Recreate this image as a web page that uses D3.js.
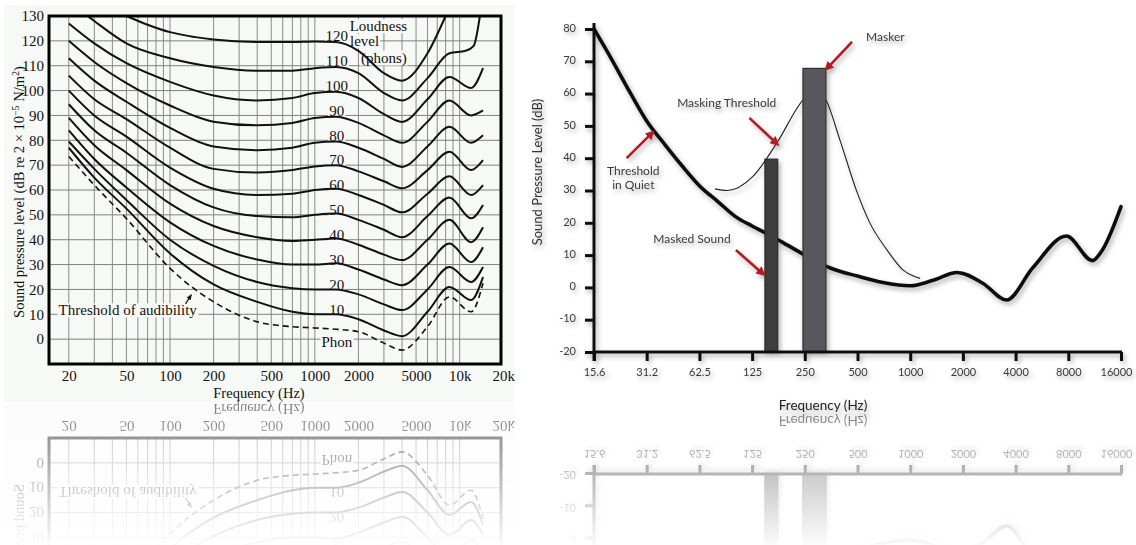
<!DOCTYPE html>
<html>
<head>
<meta charset="utf-8">
<script src="https://cdn.jsdelivr.net/npm/d3@7"></script>
<style>
body { margin: 0; background: #fff; }
svg { display: block; }
</style>
</head>
<body>
<script>
const W = 1136, H = 545;

// ---------- left chart: equal loudness contours ----------
const elcFreqs = [20, 30, 50, 100, 200, 400, 700, 1000, 1400, 2000, 3000, 4000, 6000, 8500, 12000, 14500];
const thresholdLevels = [73.5, 62, 48.5, 28.5, 15, 7, 5, 4.5, 4, 3, -1.6, -4.4, 5, 17, 11, 22.5];
const phon10 = [77, 65, 52.5, 34.5, 22, 15, 11, 10, 10, 8, 3.5, 1.2, 11, 21, 15.7, 25];
const phon20 = [79.5, 68.5, 56, 40, 29.5, 23, 20.5, 20, 20, 18, 14, 11.7, 20, 29, 23, 29];
const phon30 = [84, 72.5, 61, 47, 37.5, 32, 30, 30, 30.5, 28, 24, 21.7, 30, 38.5, 31, 37];
const phon40 = [89, 78, 68, 54.5, 45.5, 41, 39.5, 40, 40.5, 38, 34, 31.8, 40, 48, 39, 45];
const phon50 = [94.5, 84, 75, 62, 53, 49.5, 49, 50, 50.5, 48, 44, 41, 49.5, 57, 48.6, 54];
const phon60 = [100, 90, 81.5, 69, 60.5, 58, 58.5, 60, 60.5, 58, 54, 51, 58.5, 65.5, 58, 62];
const phon70 = [106, 96.5, 88.5, 77, 68.5, 67, 68, 69.5, 70, 67.5, 63.5, 60.7, 68, 75.4, 68, 72];
const phon80 = [113, 104, 95.5, 85, 77.5, 76, 77, 79, 79.5, 77, 72.5, 69.3, 77.5, 85.4, 79, 82];
const phon90 = [120, 111.5, 103, 94, 87.5, 86, 87, 89, 89.5, 87, 82, 79, 87.5, 96, 90, 92];
const phon100 = [127, 119, 111, 103.5, 98, 96, 97, 99, 99.5, 97, 90.5, 87.4, 96.5, 105.5, 101, 109];
const phon110Freqs = [27, 30, 50, 100, 200, 400, 700, 1000, 1400, 2000, 3000, 4000, 6000, 8500, 11000, 12500, 13800];
const phon110 = [130, 128, 119, 113, 109.5, 108, 108, 109, 109.5, 107, 99, 96, 105, 115, 116, 118, 130];
const phon120Freqs = [50, 70, 100, 150, 200, 400, 700, 1000, 1400, 2000, 3000, 4000, 6000, 8000];
const phon120 = [130, 126.5, 123.5, 121.5, 120.5, 119.5, 119.5, 119.7, 119.5, 116, 107, 104, 115, 130];
const phonLabels = [120, 110, 100, 90, 80, 70, 60, 50, 40, 30, 20, 10];

const leftTickValues = [20, 50, 100, 200, 500, 1000, 2000, 5000, 10000, 20000];
const leftTickLabels = ["20", "50", "100", "200", "500", "1000", "2000", "5000", "10k", "20k"];
const leftGridFreqs = [20, 30, 40, 50, 60, 70, 80, 90, 100, 200, 300, 400, 500, 600, 700, 800, 900,
                       1000, 2000, 3000, 4000, 5000, 6000, 7000, 8000, 9000, 10000];
const leftDbTicks = d3.range(0, 131, 10);

// ---------- right chart: masking ----------
const quietFreqs = [15.625, 20, 25, 31.25, 40, 50, 62.5, 80, 100, 125, 160, 200, 250, 350, 500, 700,
                    1000, 1350, 1850, 2600, 3550, 5000, 7800, 11000, 12500, 16000];
const quietLevels = [80, 70, 60.5, 51.5, 44, 37.5, 31.5, 26.5, 22, 19, 16, 13, 10, 6, 3.5, 1.5,
                     0.5, 2.2, 4.6, 1.3, -3.9, 6, 15.9, 8.3, 11.5, 25];
const maskFreqs = [76.7, 90, 126, 173, 244, 285, 330, 397, 497, 589, 737, 909, 1140];
const maskLevels = [30.5, 30, 34.3, 44.7, 58, 61, 58, 45.6, 29.5, 19.9, 11.6, 5.4, 2.8];
const barNames = ["Masked Sound", "Masker"];
const barLow = [148, 244];
const barHigh = [175, 330];
const barLevel = [39.7, 67.8];
const rightTickValues = [15.625, 31.25, 62.5, 125, 250, 500, 1000, 2000, 4000, 8000, 16000];
const rightTickLabels = ["15.6", "31.2", "62.5", "125", "250", "500", "1000", "2000", "4000", "8000", "16000"];
const rightDbTicks = d3.range(-20, 81, 10);

// annotations in data units (Hz, dB)
const notes = [
    {lines: ["Masker"], at: [560, 77.5], anchor: "start", from: [465, 76], to: [332, 67.6]},
    {lines: ["Masking Threshold"], at: [89.5, 57.2], anchor: "middle", from: [120.5, 52.5], to: [174, 44.4]},
    {lines: ["Threshold", "in Quiet"], at: [26.2, 36.1], anchor: "middle", from: [24, 40], to: [33.8, 48]},
    {lines: ["Masked Sound"], at: [56.7, 14.9], anchor: "middle", from: [101, 11.6], to: [145, 4.1]}
];

const svg = d3.select("body").append("svg").attr("width", W).attr("height", H);
const defs = svg.append("defs");

const shadow = defs.append("filter").attr("id", "shadow")
    .attr("filterUnits", "userSpaceOnUse")
    .attr("x", 500).attr("y", 0).attr("width", 636).attr("height", H);
shadow.append("feDropShadow").attr("dx", 2).attr("dy", 3).attr("stdDeviation", 2.4)
    .attr("flood-color", "#000").attr("flood-opacity", 0.32);

defs.append("marker").attr("id", "redArrow")
    .attr("viewBox", "0 0 10 10").attr("refX", 7).attr("refY", 5)
    .attr("markerWidth", 3.6).attr("markerHeight", 3.6).attr("orient", "auto")
    .append("path").attr("d", "M0,0 L10,5 L0,10 z").attr("fill", "#b01e26");

defs.append("marker").attr("id", "smallArrow")
    .attr("viewBox", "0 0 10 10").attr("refX", 8).attr("refY", 5)
    .attr("markerWidth", 5).attr("markerHeight", 5).attr("orient", "auto")
    .append("path").attr("d", "M0,1 L10,5 L0,9 z").attr("fill", "#111");

const fade = defs.append("linearGradient").attr("id", "fadeGrad")
    .attr("x1", 0).attr("y1", 0).attr("x2", 0).attr("y2", 1);
fade.append("stop").attr("offset", 0).attr("stop-color", "#fff").attr("stop-opacity", 0.55);
fade.append("stop").attr("offset", 1).attr("stop-color", "#fff").attr("stop-opacity", 0.02);

function addMask(id, x, y, w) {
    defs.append("mask").attr("id", id).attr("maskUnits", "userSpaceOnUse")
        .attr("x", 0).attr("y", 0).attr("width", W).attr("height", H)
        .append("rect").attr("x", x).attr("y", y).attr("width", w).attr("height", H - y)
        .attr("fill", "url(#fadeGrad)");
}
addMask("maskL", 0, 401, 520);
addMask("maskR", 520, 413, W - 520);

// ================= left chart =================
const panelBg = "#f7f9f7";
const serif = "'Liberation Serif', 'DejaVu Serif', serif";
const left = svg.append("g").attr("id", "leftChart");

left.append("rect").attr("x", 4).attr("y", 5).attr("width", 510).attr("height", 397).attr("fill", panelBg);

const xL = d3.scaleLog().domain([14.6, 19300]).range([49, 501]);
const yL = d3.scaleLinear().domain([-10, 130]).range([364, 16]);

// grid
left.append("g").selectAll("line").data(leftGridFreqs).enter().append("line")
    .attr("x1", d => xL(d)).attr("x2", d => xL(d))
    .attr("y1", yL(-10)).attr("y2", yL(130))
    .attr("stroke", "#8a8a8a").attr("stroke-width", 1);
left.append("g").selectAll("line").data(leftDbTicks.slice(0, -1)).enter().append("line")
    .attr("x1", xL.range()[0]).attr("x2", xL.range()[1])
    .attr("y1", d => yL(d)).attr("y2", d => yL(d))
    .attr("stroke", "#808080").attr("stroke-width", 1);

// text labels (background boxes first, text after the curves)
const leftTexts = [];
phonLabels.forEach(p => leftTexts.push({t: String(p), f: 1419, db: p, dy: -5, anchor: "middle"}));
leftTexts.push({t: "Phon", f: 1419, db: -1.2, dy: 0, anchor: "middle"});
leftTexts.push({t: "Threshold of audibility", f: 17, db: 11.7, dy: 0, anchor: "start"});
leftTexts.push({t: "Loudness", f: 1740, db: 126, dy: 0, anchor: "start"});
leftTexts.push({t: "level", f: 1750, db: 120, dy: 0, anchor: "start"});
leftTexts.push({t: "(phons)", f: 2080, db: 113.4, dy: 0, anchor: "start"});

const bgLayer = left.append("g");
const curveLayer = left.append("g");
const textLayer = left.append("g");

leftTexts.forEach(d => {
    const t = textLayer.append("text")
        .attr("x", xL(d.f)).attr("y", yL(d.db) + d.dy)
        .attr("dy", "0.35em")
        .attr("text-anchor", d.anchor)
        .attr("font-family", serif).attr("font-size", 15)
        .attr("fill", "#111")
        .text(d.t);
    const b = t.node().getBBox();
    bgLayer.append("rect")
        .attr("x", b.x - 1).attr("y", b.y + 1).attr("width", b.width + 2).attr("height", b.height - 2)
        .attr("fill", panelBg);
});

const lineL = d3.line().x(d => xL(d[0])).y(d => yL(d[1])).curve(d3.curveMonotoneX);
const phonSeries = [phon10, phon20, phon30, phon40, phon50, phon60, phon70, phon80, phon90, phon100];
phonSeries.forEach(levels => {
    curveLayer.append("path")
        .attr("d", lineL(elcFreqs.map((f, i) => [f, levels[i]])))
        .attr("fill", "none").attr("stroke", "#111").attr("stroke-width", 2);
});
curveLayer.append("path")
    .attr("d", lineL(phon110Freqs.map((f, i) => [f, phon110[i]])))
    .attr("fill", "none").attr("stroke", "#111").attr("stroke-width", 2);
curveLayer.append("path")
    .attr("d", lineL(phon120Freqs.map((f, i) => [f, phon120[i]])))
    .attr("fill", "none").attr("stroke", "#111").attr("stroke-width", 2);
curveLayer.append("path")
    .attr("d", lineL(elcFreqs.map((f, i) => [f, thresholdLevels[i]])))
    .attr("fill", "none").attr("stroke", "#111").attr("stroke-width", 1.6)
    .attr("stroke-dasharray", "6,4");

// little pointer from the threshold label to the dashed curve
curveLayer.append("line")
    .attr("x1", xL(128)).attr("y1", yL(14.2))
    .attr("x2", xL(140)).attr("y2", yL(17.8))
    .attr("stroke", "#111").attr("stroke-width", 1.2)
    .attr("marker-end", "url(#smallArrow)");

// axes
const yAxisL = left.append("g")
    .attr("transform", "translate(" + xL.range()[0] + ",0)")
    .call(d3.axisLeft(yL).tickValues(leftDbTicks).tickSize(0).tickPadding(5));
const xAxisL = left.append("g")
    .attr("transform", "translate(0," + yL(-10) + ")")
    .call(d3.axisBottom(xL).tickValues(leftTickValues)
        .tickFormat((d, i) => leftTickLabels[i]).tickSize(0).tickPadding(6));
[yAxisL, xAxisL].forEach(a => {
    a.select(".domain").remove();
    a.selectAll("text").attr("font-family", serif).attr("font-size", 15).attr("fill", "#111");
});

// frame
left.append("rect")
    .attr("x", xL.range()[0]).attr("y", yL(130))
    .attr("width", xL.range()[1] - xL.range()[0]).attr("height", yL(-10) - yL(130))
    .attr("fill", "none").attr("stroke", "#000").attr("stroke-width", 3);

left.append("text")
    .attr("x", 259).attr("y", 393).attr("dy", "0.35em")
    .attr("text-anchor", "middle")
    .attr("font-family", serif).attr("font-size", 14.5).attr("fill", "#111")
    .text("Frequency (Hz)");

const yTitleL = left.append("text")
    .attr("transform", "translate(19,192) rotate(-90)")
    .attr("text-anchor", "middle").attr("dy", "0.35em")
    .attr("font-family", serif).attr("font-size", 14.5).attr("fill", "#111");
yTitleL.append("tspan").text("Sound pressure level (dB re 2 \u00d7 10");
yTitleL.append("tspan").attr("dy", -5).attr("font-size", 10).text("\u22125");
yTitleL.append("tspan").attr("dy", 5).text(" N/m");
yTitleL.append("tspan").attr("dy", -5).attr("font-size", 10).text("2");
yTitleL.append("tspan").attr("dy", 5).text(")");

// ================= right chart =================
const sans = "Lato, 'Open Sans', sans-serif";
const right = svg.append("g").attr("id", "rightChart").attr("filter", "url(#shadow)");

const xR = d3.scaleLog().base(2).domain([15.625, 16000]).range([594, 1121]);
const yR = d3.scaleLinear().domain([-20, 80]).range([352, 29]);

const lineR = d3.line().x(d => xR(d[0])).y(d => yR(d[1])).curve(d3.curveMonotoneX);

right.append("path")
    .attr("d", lineR(quietFreqs.map((f, i) => [f, quietLevels[i]])))
    .attr("fill", "none").attr("stroke", "#111").attr("stroke-width", 3.6)
    .attr("stroke-linecap", "round");
right.append("path")
    .attr("d", lineR(maskFreqs.map((f, i) => [f, maskLevels[i]])))
    .attr("fill", "none").attr("stroke", "#222").attr("stroke-width", 1.1);

right.append("g").selectAll("rect").data(barNames).enter().append("rect")
    .attr("x", (d, i) => xR(barLow[i]))
    .attr("width", (d, i) => xR(barHigh[i]) - xR(barLow[i]))
    .attr("y", (d, i) => yR(barLevel[i]))
    .attr("height", (d, i) => yR(-20) - yR(barLevel[i]))
    .attr("fill", (d, i) => i === 0 ? "#3c3c3c" : "#59595b")
    .attr("stroke", (d, i) => i === 0 ? "#2a2a2a" : "#333")
    .attr("stroke-width", 1.2);

// axes
const yAxisR = right.append("g")
    .attr("transform", "translate(" + xR.range()[0] + ",0)")
    .call(d3.axisLeft(yR).tickValues(rightDbTicks).tickFormat(d => String(d))
        .tickSize(9).tickPadding(9));
const xAxisR = right.append("g")
    .attr("transform", "translate(0," + yR(-20) + ")")
    .call(d3.axisBottom(xR).tickValues(rightTickValues)
        .tickFormat((d, i) => rightTickLabels[i]).tickSize(9).tickPadding(7));
[yAxisR, xAxisR].forEach(a => {
    a.select(".domain").remove();
    a.selectAll("line").attr("stroke", "#111").attr("stroke-width", 3);
    a.selectAll("text").attr("font-family", sans).attr("font-size", 11).attr("fill", "#3a3a3a");
});
yAxisR.selectAll("text").attr("dy", "0.2em");
xAxisR.selectAll(".tick:last-of-type text").attr("dx", -5);
// spines
right.append("line")
    .attr("x1", xR.range()[0]).attr("x2", xR.range()[0])
    .attr("y1", yR(80) - 6).attr("y2", yR(-20) + 9)
    .attr("stroke", "#111").attr("stroke-width", 3);
right.append("line")
    .attr("x1", xR.range()[0]).attr("x2", xR.range()[1] + 1)
    .attr("y1", yR(-20)).attr("y2", yR(-20))
    .attr("stroke", "#111").attr("stroke-width", 3);

// annotations
notes.forEach(n => {
    right.append("line")
        .attr("x1", xR(n.from[0])).attr("y1", yR(n.from[1]))
        .attr("x2", xR(n.to[0])).attr("y2", yR(n.to[1]))
        .attr("stroke", "#b01e26").attr("stroke-width", 2.6)
        .attr("marker-end", "url(#redArrow)");
    const t = right.append("text")
        .attr("x", xR(n.at[0])).attr("y", yR(n.at[1]))
        .attr("text-anchor", n.anchor)
        .attr("font-family", sans).attr("font-size", 12).attr("fill", "#3a3a3a");
    n.lines.forEach((s, i) => {
        t.append("tspan").attr("x", xR(n.at[0]))
            .attr("dy", i === 0 ? "0.35em" : "1.2em").text(s);
    });
});

right.append("text")
    .attr("x", 823).attr("y", 405).attr("dy", "0.35em")
    .attr("text-anchor", "middle")
    .attr("font-family", sans).attr("font-size", 13.5).attr("fill", "#222")
    .text("Frequency (Hz)");
right.append("text")
    .attr("transform", "translate(537,172) rotate(-90)")
    .attr("text-anchor", "middle").attr("dy", "0.35em")
    .attr("font-family", sans).attr("font-size", 13).attr("fill", "#333")
    .text("Sound Pressure Level (dB)");

// ================= reflections =================
svg.append("g").attr("mask", "url(#maskL)")
    .append("use").attr("href", "#leftChart")
    .attr("transform", "translate(0,802) scale(1,-1)");
svg.append("g").attr("mask", "url(#maskR)")
    .append("use").attr("href", "#rightChart")
    .attr("transform", "translate(0,826) scale(1,-1)");
</script>
</body>
</html>
